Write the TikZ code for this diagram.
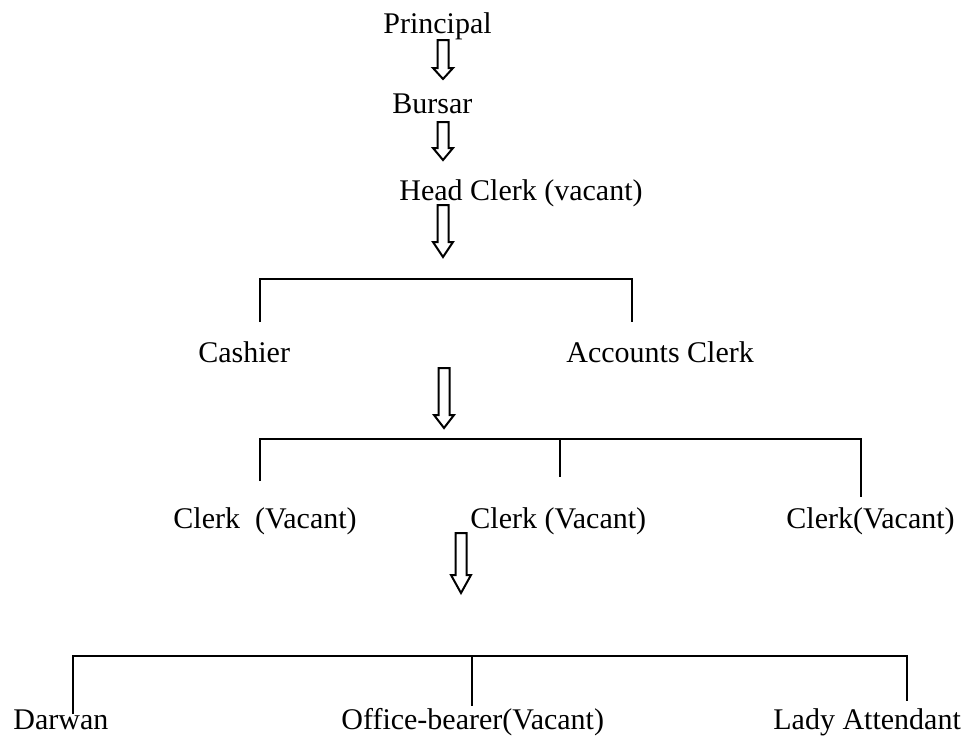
\documentclass[tikz,border=0pt]{standalone}
\usepackage{fontspec}
\setmainfont{Liberation Serif}
\usetikzlibrary{positioning}

% hollow block arrow: x, top, start of head, tip
\newcommand{\blkarrow}[4]{%
	\draw[line width=1pt, fill=white] (#1-5.5,#2) -- (#1+5.5,#2) -- (#1+5.5,#3) -- (#1+10,#3)
		-- (#1,#4) -- (#1-10,#3) -- (#1-5.5,#3) -- cycle;
}

\tikzset{
	post/.style={anchor=base west, inner sep=0pt, font=\fontsize{15}{18}\selectfont},
	tie/.style={line width=1pt}
}

\begin{document}
\begin{tikzpicture}[x=0.5pt, y=-0.5pt]
					\useasboundingbox (0,0) rectangle (966,736);
					
					\node[post] (principal) at (383,33) {Principal};
					\node[post] (bursar) at (392,113) {Bursar};
					\node[post] (headclerk) at (399,200) {Head Clerk (vacant)};
					\node[post] (cashier) at (198,362) {Cashier};
					\node[post] (accounts) at (566,362) {Accounts Clerk};
					\node[post] (clerkA) at (173,528) {Clerk\ \ (Vacant)};
					\node[post] (clerkB) at (470,528) {Clerk (Vacant)};
					\node[post] (clerkC) at (786,528) {Clerk(Vacant)};
					\node[post] (darwan) at (13,729) {Darwan};
					\node[post] (bearer) at (341,729) {Office-bearer(Vacant)};
					\node[post] (lady) at (773,729) {Lady Attendant};
					
					\blkarrow{443}{40}{68}{79}
					\blkarrow{443}{122}{148}{160}
					\blkarrow{443}{205}{242}{257}
					\blkarrow{444}{368}{415}{428}
					\blkarrow{461}{533}{575}{593}
					
					% first level
					\coordinate (a1) at (260,279);
					\coordinate (a2) at (632,279);
					\draw[tie] (260,322) -- (a1) -- (a2) -- (632,322);
					
					% clerks
					\coordinate (b1) at (260,439);
					\coordinate (b2) at (861,439);
					\draw[tie] (260,481) -- (b1) -- (b2) -- (861,497);
					\draw[tie] (560,439) -- (560,477);
					
					% staff
					\coordinate (c1) at (73,656);
					\coordinate (c2) at (907,656);
					\draw[tie] (73,714) -- (c1) -- (c2) -- (907,701);
					\draw[tie] (472,656) -- (472,706);
					
				\end{tikzpicture}
\end{document}
